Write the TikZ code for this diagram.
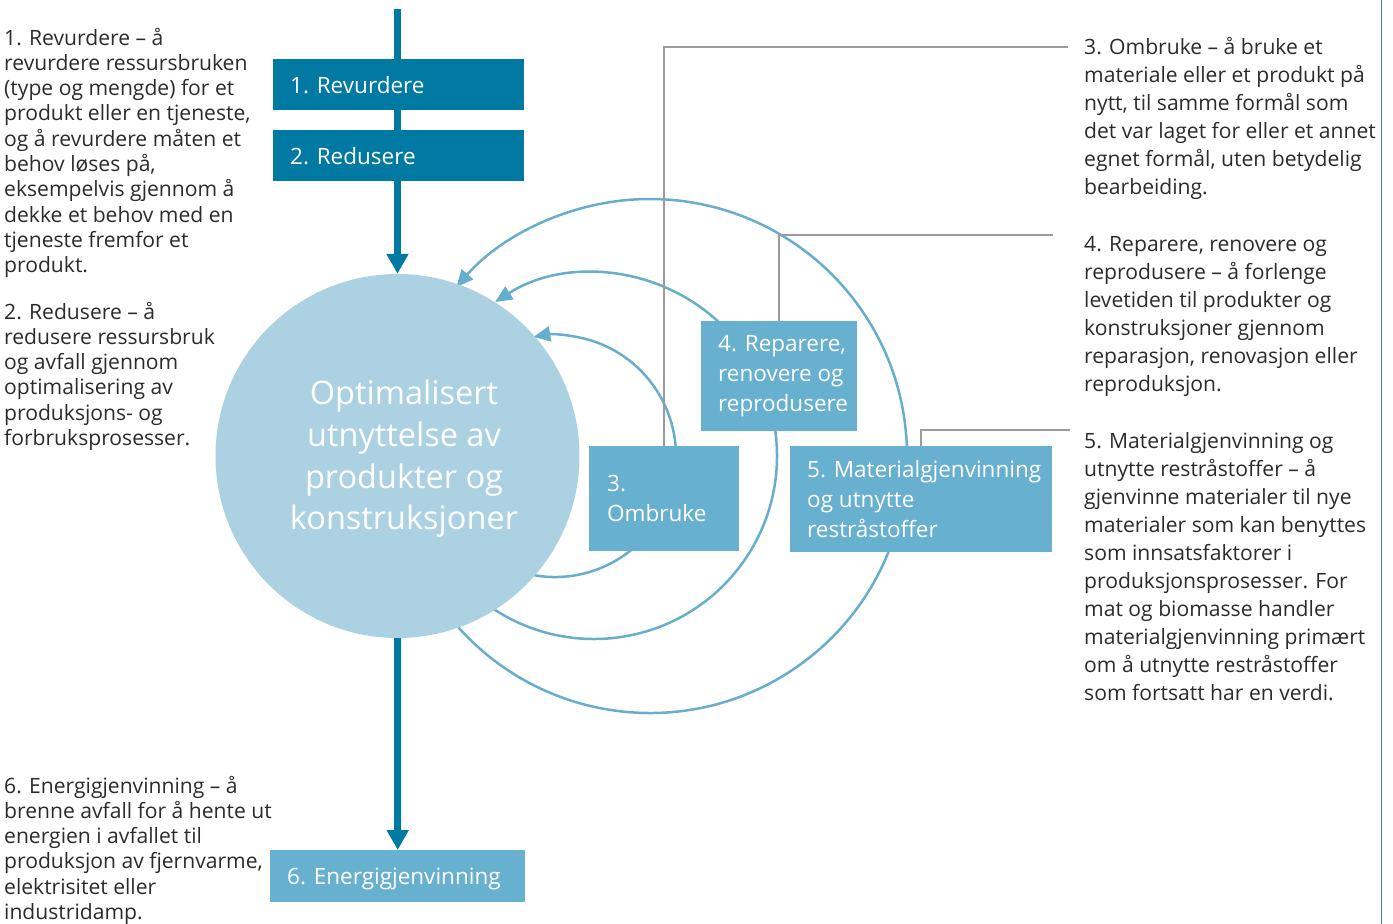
\documentclass[tikz,border=0pt]{standalone}
\usepackage{fontspec}
\setmainfont{Open Sans}
\usetikzlibrary{arrows.meta,calc}
\definecolor{darkbox}{RGB}{0,121,163}
\definecolor{lightbox}{RGB}{104,176,207}
\definecolor{circfill}{RGB}{172,209,227}
\definecolor{arccol}{RGB}{103,174,206}
\definecolor{leadcol}{RGB}{155,155,155}
\definecolor{txt}{RGB}{43,43,43}
\definecolor{edgecol}{RGB}{60,130,180}
\begin{document}
\begin{tikzpicture}[x=1pt,y=-1pt,
  dbox/.style={fill=darkbox, draw=none, anchor=north west, inner sep=0, minimum width=251pt, minimum height=51pt},
  lbox/.style={fill=lightbox, draw=none, anchor=north west, inner sep=0},
  boxtext/.style={anchor=west, align=left, inner sep=0, text=white, font=\fontsize{22.5}{30}\selectfont},
  circtext/.style={align=center, inner sep=0, text=white, font=\fontsize{32.5}{41.7}\selectfont},
  ltext/.style={anchor=base west, align=left, inner sep=0, text=txt, font=\fontsize{21.1}{25.3}\selectfont},
  rtext/.style={anchor=base west, align=left, inner sep=0, text=txt, font=\fontsize{21.1}{28}\selectfont},
  darr/.style={draw=darkbox, line width=7pt, -{Triangle[width=21pt,length=20pt]}},
  arcl/.style={draw=arccol, line width=2.5pt, -{Triangle[width=15pt,length=17pt]}},
  lead/.style={draw=leadcol, line width=1.5pt},
  edgeline/.style={draw=edgecol, line width=1.5pt}]
\useasboundingbox (0,0) rectangle (1393,924);

% arcs (behind the circle)
\coordinate (c1) at (555,456);
\coordinate (c2) at (594,456);
\coordinate (c3) at (650,456);
\draw[arcl] ($(c1)+(105:121)$) arc[start angle=105, end angle=-100.3, radius=121];
\draw[arcl] ($(c2)+(128:183)$) arc[start angle=128, end angle=-122.7, radius=183];
\draw[arcl] ($(c3)+(142:257)$) arc[start angle=142, end angle=-138.9, radius=257];

% main circle
\node[circle, fill=circfill, minimum size=364pt, inner sep=0] (circ) at (397.5,456) {};
\node[circtext] (circt) at (404,459) {Optimalisert\\utnyttelse av\\produkter og\\konstruksjoner};

% leaders
\coordinate (l3) at (1068,47);
\coordinate (l4) at (1053,235);
\coordinate (l5) at (1070,430);
\coordinate (b3top) at (664,446);
\coordinate (b4top) at (779,321);
\coordinate (b5top) at (921,446);
\draw[lead] (b3top) |- (l3);
\draw[lead] (b4top) |- (l4);
\draw[lead] (b5top) |- (l5);

% dark arrows
\coordinate (topstart) at (397.5,9);
\node[lbox, minimum width=255pt, minimum height=52pt] (b6) at (270,850) {};
\draw[darr] (topstart) -- (circ.north);
\draw[darr] (circ.south) -- (b6.north);

% boxes
\node[dbox] (b1) at (273,59) {};
\node[dbox] (b2) at (273,130) {};
\node[lbox, minimum width=150pt, minimum height=105pt] (b3) at (589,446) {};
\node[lbox, minimum width=156pt, minimum height=110pt] (b4) at (701,321) {};
\node[lbox, minimum width=262pt, minimum height=106pt] (b5) at (790,446) {};

\node[boxtext] (b1t) at ([xshift=17pt]b1.west) {1. Revurdere};
\node[boxtext] (b2t) at ([xshift=17pt]b2.west) {2. Redusere};
\node[boxtext] (b3t) at ([xshift=18pt]b3.west) {3.\\Ombruke};
\node[boxtext] (b4t) at ([xshift=17pt]b4.west) {4. Reparere,\\renovere og\\reprodusere};
\node[boxtext] (b5t) at ([xshift=17pt]b5.west) {5. Materialgjenvinning\\og utnytte\\restråstoffer};
\node[boxtext] (b6t) at ([xshift=17pt,yshift=-3pt]b6.west) {6. Energigjenvinning};

% right edge line
\coordinate (e1) at (1381.5,0);
\coordinate (e2) at (1381.5,924);
\draw[edgeline] (e1) -- (e2);

% left texts (anchored at the baseline of their last line)
\node[ltext] (t1) at (4,272.7) {1. Revurdere – å\\revurdere ressursbruken\\(type og mengde) for et\\produkt eller en tjeneste,\\og å revurdere måten et\\behov løses på,\\eksempelvis gjennom å\\dekke et behov med en\\tjeneste fremfor et\\produkt.};
\node[ltext] (t2) at (4,445.5) {2. Redusere – å\\redusere ressursbruk\\og avfall gjennom\\optimalisering av\\produksjons- og\\forbruksprosesser.};
\node[ltext] (t6) at (4,919.5) {6. Energigjenvinning – å\\brenne avfall for å hente ut\\energien i avfallet til\\produksjon av fjernvarme,\\elektrisitet eller\\industridamp.};

% right texts
\node[rtext] (t3) at (1084,194) {3. Ombruke – å bruke et\\materiale eller et produkt på\\nytt, til samme formål som\\det var laget for eller et annet\\egnet formål, uten betydelig\\bearbeiding.};
\node[rtext] (t4) at (1084,391) {4. Reparere, renovere og\\reprodusere – å forlenge\\levetiden til produkter og\\konstruksjoner gjennom\\reparasjon, renovasjon eller\\reproduksjon.};
\node[rtext] (t5) at (1084,700) {5. Materialgjenvinning og\\utnytte restråstoffer – å\\gjenvinne materialer til nye\\materialer som kan benyttes\\som innsatsfaktorer i\\produksjonsprosesser. For\\mat og biomasse handler\\materialgjenvinning primært\\om å utnytte restråstoffer\\som fortsatt har en verdi.};
\end{tikzpicture}
\end{document}
